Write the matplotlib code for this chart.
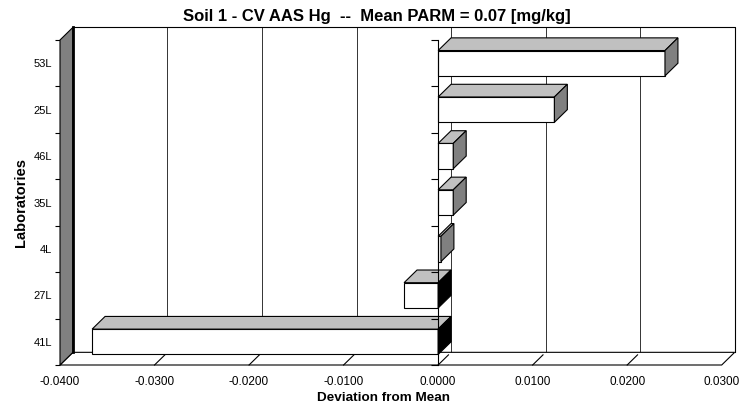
import numpy as np
import matplotlib.pyplot as plt
from matplotlib.patches import Polygon

# data
labs = ['41L', '27L', '4L', '35L', '46L', '25L', '53L']
dev = [-0.0366, -0.0036, 0.0003, 0.0016, 0.0016, 0.0123, 0.0240]
xticks = [-0.04, -0.03, -0.02, -0.01, 0.0, 0.01, 0.02, 0.03]
title = 'Soil 1 - CV AAS Hg  --  Mean PARM = 0.07 [mg/kg]'

plt.rcParams['font.family'] = ['Liberation Sans', 'DejaVu Sans']

fig = plt.figure(figsize=(7.47, 4.11), dpi=100)
ax = fig.add_axes([60 / 747, 46 / 411, 661.7 / 747, 325 / 411])

x0, x1 = xticks[0], xticks[-1]
n = len(labs)
ax.set_xlim(x0, x1)
ax.set_ylim(0, n)

# depth of the fake 3d box (data units) and half bar height
dx, dy = 0.00137, 0.273
h = 0.273


def poly(pts, fc, z, lw=0.8):
    ax.add_patch(Polygon(pts, closed=True, fc=fc, ec='black', lw=lw,
                         zorder=z, clip_on=False))


# back wall: gridlines + outline
for t in xticks[1:-1]:
    ax.plot([t + dx, t + dx], [dy, n + dy], color='#333333', lw=0.7,
            zorder=1, clip_on=False)
ax.plot([x0 + dx, x1 + dx, x1 + dx], [n + dy, n + dy, dy], color='black',
        lw=0.8, zorder=1, clip_on=False)

# floor
poly([(x0, 0), (x1, 0), (x1 + dx, dy), (x0 + dx, dy)], 'white', 1)
for t in xticks[1:-1]:
    ax.plot([t, t + 0.8 * dx], [0, 0.8 * dy], color='black', lw=0.8,
            zorder=2, clip_on=False)

# left wall
poly([(x0, 0), (x0, n), (x0 + dx, n + dy), (x0 + dx, dy)], '#808080', 2)
ax.plot([x0 + dx, x0 + dx], [dy, n + dy], color='black', lw=2,
        zorder=3, clip_on=False)

# bars
for i, v in enumerate(dev):
    c = i + 0.5
    lo, hi = min(0, v), max(0, v)
    poly([(lo, c - h), (hi, c - h), (hi, c + h), (lo, c + h)], 'white', 4)
    poly([(lo, c + h), (hi, c + h), (hi + dx, c + h + dy), (lo + dx, c + h + dy)],
         '#C0C0C0', 4)
    side = '#808080' if v > 0 else 'black'
    poly([(hi, c - h), (hi + dx, c - h + dy), (hi + dx, c + h + dy), (hi, c + h)],
         side, 4)

# category axis line at zero
ax.plot([0] * (n + 1), range(n + 1), color='black', lw=0.8, marker=0,
        ms=5, mew=0.8, zorder=5, clip_on=False)

for s in ax.spines.values():
    s.set_visible(False)

ax.set_yticks(range(n + 1))
ax.set_yticks(np.arange(n) + 0.5, labels=labs, minor=True)
ax.tick_params(axis='y', which='major', length=3.6, width=0.8,
               direction='out', labelleft=False)
ax.tick_params(axis='y', which='minor', length=0, pad=5.5, labelsize=8)

ax.set_xticks(xticks, labels=[f'{t:.4f}' for t in xticks])
ax.tick_params(axis='x', length=0, pad=8, labelsize=8.5)

ax.set_xlabel('Deviation from Mean', fontsize=9.7, fontweight='bold')
ax.xaxis.set_label_coords(0.4886, -0.1015)
ax.xaxis.label.set_va('center')
ax.set_ylabel('Laboratories', fontsize=10.5, fontweight='bold')
ax.yaxis.set_label_coords(-0.0594, 0.5)
ax.yaxis.label.set_va('center')

fig.text(376.4 / 747, 1 - 20.7 / 411, title, ha='center', va='baseline',
         fontsize=12, fontweight='bold')

fig.savefig('out.png', dpi=100)
